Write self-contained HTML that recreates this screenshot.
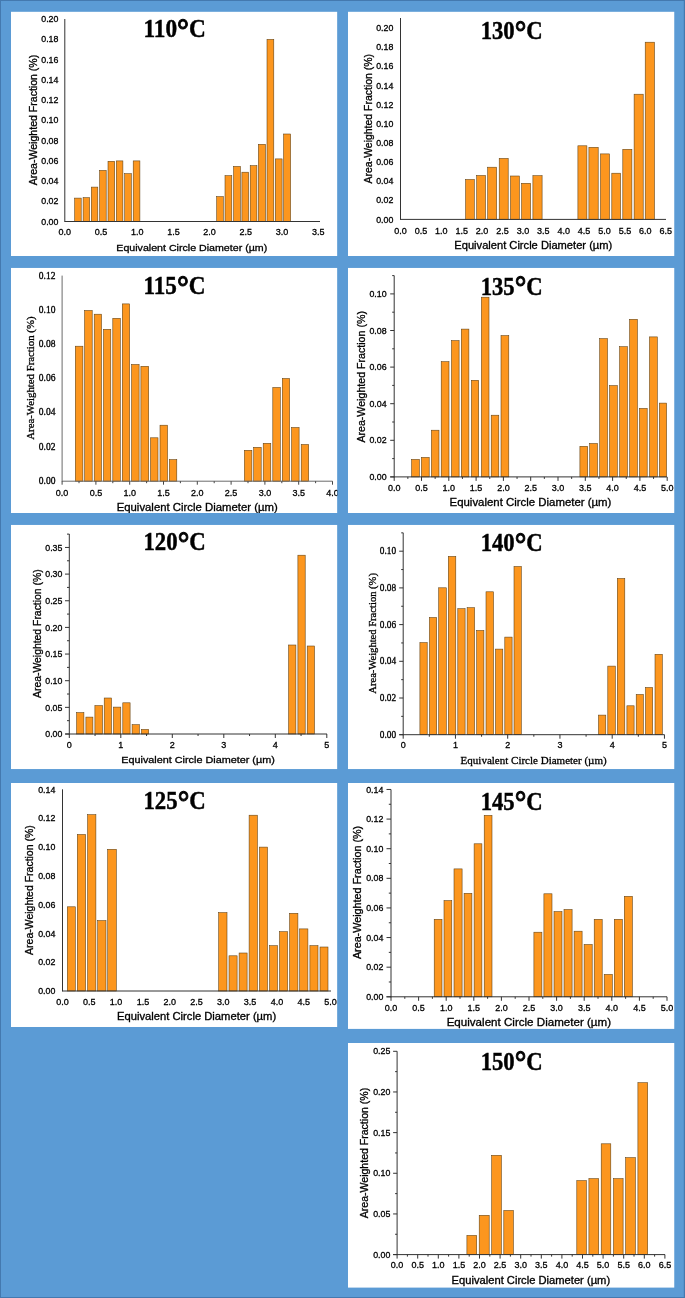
<!DOCTYPE html>
<html><head><meta charset="utf-8"><title>Histograms</title>
<style>html,body{margin:0;padding:0;background:#5B9BD5}svg text{white-space:pre}</style></head>
<body>
<svg width="685" height="1298" viewBox="0 0 685 1298" style="display:block">
<defs>
<clipPath id="c110"><rect x="11" y="11.6" width="326.40" height="244.40"/></clipPath>
<clipPath id="c130"><rect x="347.9" y="11.6" width="326.60" height="244.40"/></clipPath>
<clipPath id="c115"><rect x="11" y="267.8" width="326.40" height="245.20"/></clipPath>
<clipPath id="c135"><rect x="347.9" y="267.8" width="326.60" height="245.20"/></clipPath>
<clipPath id="c120"><rect x="11" y="524.8" width="326.40" height="244.40"/></clipPath>
<clipPath id="c140"><rect x="347.9" y="524.8" width="326.60" height="244.40"/></clipPath>
<clipPath id="c125"><rect x="11" y="782.9" width="326.40" height="244.10"/></clipPath>
<clipPath id="c145"><rect x="347.9" y="782.9" width="326.60" height="246.00"/></clipPath>
<clipPath id="c150"><rect x="347.9" y="1043" width="326.60" height="244.80"/></clipPath>
</defs>
<rect x="0.00" y="0.00" width="685.00" height="1298.00" fill="#5B9BD5" />
<rect x="0.00" y="0.00" width="685.00" height="1.00" fill="#4479AF" />
<rect x="0.00" y="0.00" width="1.00" height="1298.00" fill="#4479AF" />
<rect x="683.80" y="0.00" width="1.20" height="1298.00" fill="#4479AF" />
<rect x="0.00" y="1297.00" width="685.00" height="1.00" fill="#4479AF" />
<g clip-path="url(#c110)">
<rect x="11.00" y="11.60" width="326.40" height="244.40" fill="#fff" />
<rect x="74.70" y="198.10" width="6.50" height="23.40" fill="#FC961E" stroke="#5a3d12" stroke-width="0.55"/>
<rect x="83.10" y="197.70" width="6.50" height="23.80" fill="#FC961E" stroke="#5a3d12" stroke-width="0.55"/>
<rect x="91.30" y="187.10" width="6.50" height="34.40" fill="#FC961E" stroke="#5a3d12" stroke-width="0.55"/>
<rect x="99.60" y="170.40" width="6.60" height="51.10" fill="#FC961E" stroke="#5a3d12" stroke-width="0.55"/>
<rect x="108.00" y="161.30" width="6.70" height="60.20" fill="#FC961E" stroke="#5a3d12" stroke-width="0.55"/>
<rect x="116.30" y="160.90" width="6.60" height="60.60" fill="#FC961E" stroke="#5a3d12" stroke-width="0.55"/>
<rect x="124.70" y="173.70" width="6.60" height="47.80" fill="#FC961E" stroke="#5a3d12" stroke-width="0.55"/>
<rect x="133.20" y="160.90" width="6.70" height="60.60" fill="#FC961E" stroke="#5a3d12" stroke-width="0.55"/>
<rect x="216.70" y="196.60" width="6.60" height="24.90" fill="#FC961E" stroke="#5a3d12" stroke-width="0.55"/>
<rect x="225.00" y="175.70" width="6.80" height="45.80" fill="#FC961E" stroke="#5a3d12" stroke-width="0.55"/>
<rect x="233.60" y="166.40" width="6.80" height="55.10" fill="#FC961E" stroke="#5a3d12" stroke-width="0.55"/>
<rect x="241.90" y="172.20" width="6.70" height="49.30" fill="#FC961E" stroke="#5a3d12" stroke-width="0.55"/>
<rect x="250.20" y="165.70" width="6.70" height="55.80" fill="#FC961E" stroke="#5a3d12" stroke-width="0.55"/>
<rect x="258.40" y="144.30" width="7.10" height="77.20" fill="#FC961E" stroke="#5a3d12" stroke-width="0.55"/>
<rect x="267.00" y="39.40" width="6.80" height="182.10" fill="#FC961E" stroke="#5a3d12" stroke-width="0.55"/>
<rect x="275.30" y="158.90" width="6.80" height="62.60" fill="#FC961E" stroke="#5a3d12" stroke-width="0.55"/>
<rect x="283.60" y="134.00" width="7.00" height="87.50" fill="#FC961E" stroke="#5a3d12" stroke-width="0.55"/>
<line x1="64.80" y1="19.00" x2="64.80" y2="222.00" stroke="#333" stroke-width="1"/>
<line x1="64.80" y1="221.50" x2="320.00" y2="221.50" stroke="#333" stroke-width="1"/>
<text transform="translate(58.40,224.65) scale(1.0,1)" text-anchor="end" font-size="8.8" font-family="'Liberation Sans', sans-serif" stroke="#000" stroke-width="0.3" fill="#000">0.00</text>
<text transform="translate(58.40,204.39) scale(1.0,1)" text-anchor="end" font-size="8.8" font-family="'Liberation Sans', sans-serif" stroke="#000" stroke-width="0.3" fill="#000">0.02</text>
<text transform="translate(58.40,184.13) scale(1.0,1)" text-anchor="end" font-size="8.8" font-family="'Liberation Sans', sans-serif" stroke="#000" stroke-width="0.3" fill="#000">0.04</text>
<text transform="translate(58.40,163.87) scale(1.0,1)" text-anchor="end" font-size="8.8" font-family="'Liberation Sans', sans-serif" stroke="#000" stroke-width="0.3" fill="#000">0.06</text>
<text transform="translate(58.40,143.61) scale(1.0,1)" text-anchor="end" font-size="8.8" font-family="'Liberation Sans', sans-serif" stroke="#000" stroke-width="0.3" fill="#000">0.08</text>
<text transform="translate(58.40,123.35) scale(1.0,1)" text-anchor="end" font-size="8.8" font-family="'Liberation Sans', sans-serif" stroke="#000" stroke-width="0.3" fill="#000">0.10</text>
<text transform="translate(58.40,103.09) scale(1.0,1)" text-anchor="end" font-size="8.8" font-family="'Liberation Sans', sans-serif" stroke="#000" stroke-width="0.3" fill="#000">0.12</text>
<text transform="translate(58.40,82.83) scale(1.0,1)" text-anchor="end" font-size="8.8" font-family="'Liberation Sans', sans-serif" stroke="#000" stroke-width="0.3" fill="#000">0.14</text>
<text transform="translate(58.40,62.57) scale(1.0,1)" text-anchor="end" font-size="8.8" font-family="'Liberation Sans', sans-serif" stroke="#000" stroke-width="0.3" fill="#000">0.16</text>
<text transform="translate(58.40,42.31) scale(1.0,1)" text-anchor="end" font-size="8.8" font-family="'Liberation Sans', sans-serif" stroke="#000" stroke-width="0.3" fill="#000">0.18</text>
<text transform="translate(58.40,22.05) scale(1.0,1)" text-anchor="end" font-size="8.8" font-family="'Liberation Sans', sans-serif" stroke="#000" stroke-width="0.3" fill="#000">0.20</text>
<text transform="translate(64.80,235.42) scale(1.0,1)" text-anchor="middle" font-size="9.0" font-family="'Liberation Sans', sans-serif" stroke="#000" stroke-width="0.3" fill="#000">0.0</text>
<text transform="translate(101.00,235.42) scale(1.0,1)" text-anchor="middle" font-size="9.0" font-family="'Liberation Sans', sans-serif" stroke="#000" stroke-width="0.3" fill="#000">0.5</text>
<text transform="translate(137.20,235.42) scale(1.0,1)" text-anchor="middle" font-size="9.0" font-family="'Liberation Sans', sans-serif" stroke="#000" stroke-width="0.3" fill="#000">1.0</text>
<text transform="translate(173.40,235.42) scale(1.0,1)" text-anchor="middle" font-size="9.0" font-family="'Liberation Sans', sans-serif" stroke="#000" stroke-width="0.3" fill="#000">1.5</text>
<text transform="translate(209.60,235.42) scale(1.0,1)" text-anchor="middle" font-size="9.0" font-family="'Liberation Sans', sans-serif" stroke="#000" stroke-width="0.3" fill="#000">2.0</text>
<text transform="translate(245.80,235.42) scale(1.0,1)" text-anchor="middle" font-size="9.0" font-family="'Liberation Sans', sans-serif" stroke="#000" stroke-width="0.3" fill="#000">2.5</text>
<text transform="translate(282.00,235.42) scale(1.0,1)" text-anchor="middle" font-size="9.0" font-family="'Liberation Sans', sans-serif" stroke="#000" stroke-width="0.3" fill="#000">3.0</text>
<text transform="translate(318.20,235.42) scale(1.0,1)" text-anchor="middle" font-size="9.0" font-family="'Liberation Sans', sans-serif" stroke="#000" stroke-width="0.3" fill="#000">3.5</text>
<text transform="translate(143.44,37.30) scale(0.9308,1)" font-size="25" font-family="'Liberation Serif', serif" font-weight="bold" fill="#000" stroke="#000" stroke-width="0.45">110<tspan font-size="32.00" dy="3.76" stroke-width="0.9">°</tspan><tspan dy="-3.76" stroke-width="0.45">C</tspan></text>
<text transform="translate(116.33,250.60) scale(1.0860,1.0)" font-size="9.8" font-family="'Liberation Sans', sans-serif" stroke="#000" stroke-width="0.3" fill="#000">Equivalent Circle Diameter (µm)</text>
<text transform="translate(36.90,185.32) rotate(-90) scale(1.0000,1.04)" font-size="10.56" font-family="'Liberation Sans', sans-serif" stroke="#000" stroke-width="0.3" fill="#000">Area-Weighted Fraction (%)</text>
</g>
<g clip-path="url(#c130)">
<rect x="347.90" y="11.60" width="326.60" height="244.40" fill="#fff" />
<rect x="465.60" y="179.50" width="8.70" height="39.90" fill="#FC961E" stroke="#5a3d12" stroke-width="0.55"/>
<rect x="476.70" y="175.50" width="8.80" height="43.90" fill="#FC961E" stroke="#5a3d12" stroke-width="0.55"/>
<rect x="487.70" y="167.20" width="8.90" height="52.20" fill="#FC961E" stroke="#5a3d12" stroke-width="0.55"/>
<rect x="499.20" y="158.40" width="9.00" height="61.00" fill="#FC961E" stroke="#5a3d12" stroke-width="0.55"/>
<rect x="510.50" y="176.00" width="8.90" height="43.40" fill="#FC961E" stroke="#5a3d12" stroke-width="0.55"/>
<rect x="521.60" y="183.30" width="9.00" height="36.10" fill="#FC961E" stroke="#5a3d12" stroke-width="0.55"/>
<rect x="532.90" y="175.70" width="9.20" height="43.70" fill="#FC961E" stroke="#5a3d12" stroke-width="0.55"/>
<rect x="577.90" y="145.80" width="9.00" height="73.60" fill="#FC961E" stroke="#5a3d12" stroke-width="0.55"/>
<rect x="588.90" y="147.30" width="9.30" height="72.10" fill="#FC961E" stroke="#5a3d12" stroke-width="0.55"/>
<rect x="600.50" y="153.90" width="9.00" height="65.50" fill="#FC961E" stroke="#5a3d12" stroke-width="0.55"/>
<rect x="611.80" y="173.20" width="8.80" height="46.20" fill="#FC961E" stroke="#5a3d12" stroke-width="0.55"/>
<rect x="622.80" y="149.30" width="9.10" height="70.10" fill="#FC961E" stroke="#5a3d12" stroke-width="0.55"/>
<rect x="634.10" y="94.20" width="9.10" height="125.20" fill="#FC961E" stroke="#5a3d12" stroke-width="0.55"/>
<rect x="645.20" y="42.20" width="9.30" height="177.20" fill="#FC961E" stroke="#5a3d12" stroke-width="0.55"/>
<line x1="400.50" y1="18.00" x2="400.50" y2="219.90" stroke="#333" stroke-width="1"/>
<line x1="400.50" y1="219.40" x2="666.00" y2="219.40" stroke="#333" stroke-width="1"/>
<text transform="translate(393.30,222.55) scale(1.0,1)" text-anchor="end" font-size="8.8" font-family="'Liberation Sans', sans-serif" stroke="#000" stroke-width="0.3" fill="#000">0.00</text>
<text transform="translate(393.30,203.40) scale(1.0,1)" text-anchor="end" font-size="8.8" font-family="'Liberation Sans', sans-serif" stroke="#000" stroke-width="0.3" fill="#000">0.02</text>
<text transform="translate(393.30,184.25) scale(1.0,1)" text-anchor="end" font-size="8.8" font-family="'Liberation Sans', sans-serif" stroke="#000" stroke-width="0.3" fill="#000">0.04</text>
<text transform="translate(393.30,165.10) scale(1.0,1)" text-anchor="end" font-size="8.8" font-family="'Liberation Sans', sans-serif" stroke="#000" stroke-width="0.3" fill="#000">0.06</text>
<text transform="translate(393.30,145.95) scale(1.0,1)" text-anchor="end" font-size="8.8" font-family="'Liberation Sans', sans-serif" stroke="#000" stroke-width="0.3" fill="#000">0.08</text>
<text transform="translate(393.30,126.80) scale(1.0,1)" text-anchor="end" font-size="8.8" font-family="'Liberation Sans', sans-serif" stroke="#000" stroke-width="0.3" fill="#000">0.10</text>
<text transform="translate(393.30,107.65) scale(1.0,1)" text-anchor="end" font-size="8.8" font-family="'Liberation Sans', sans-serif" stroke="#000" stroke-width="0.3" fill="#000">0.12</text>
<text transform="translate(393.30,88.50) scale(1.0,1)" text-anchor="end" font-size="8.8" font-family="'Liberation Sans', sans-serif" stroke="#000" stroke-width="0.3" fill="#000">0.14</text>
<text transform="translate(393.30,69.35) scale(1.0,1)" text-anchor="end" font-size="8.8" font-family="'Liberation Sans', sans-serif" stroke="#000" stroke-width="0.3" fill="#000">0.16</text>
<text transform="translate(393.30,50.20) scale(1.0,1)" text-anchor="end" font-size="8.8" font-family="'Liberation Sans', sans-serif" stroke="#000" stroke-width="0.3" fill="#000">0.18</text>
<text transform="translate(393.30,31.05) scale(1.0,1)" text-anchor="end" font-size="8.8" font-family="'Liberation Sans', sans-serif" stroke="#000" stroke-width="0.3" fill="#000">0.20</text>
<text transform="translate(400.50,233.62) scale(1.0,1)" text-anchor="middle" font-size="9.0" font-family="'Liberation Sans', sans-serif" stroke="#000" stroke-width="0.3" fill="#000">0.0</text>
<text transform="translate(420.90,233.62) scale(1.0,1)" text-anchor="middle" font-size="9.0" font-family="'Liberation Sans', sans-serif" stroke="#000" stroke-width="0.3" fill="#000">0.5</text>
<text transform="translate(441.30,233.62) scale(1.0,1)" text-anchor="middle" font-size="9.0" font-family="'Liberation Sans', sans-serif" stroke="#000" stroke-width="0.3" fill="#000">1.0</text>
<text transform="translate(461.70,233.62) scale(1.0,1)" text-anchor="middle" font-size="9.0" font-family="'Liberation Sans', sans-serif" stroke="#000" stroke-width="0.3" fill="#000">1.5</text>
<text transform="translate(482.10,233.62) scale(1.0,1)" text-anchor="middle" font-size="9.0" font-family="'Liberation Sans', sans-serif" stroke="#000" stroke-width="0.3" fill="#000">2.0</text>
<text transform="translate(502.50,233.62) scale(1.0,1)" text-anchor="middle" font-size="9.0" font-family="'Liberation Sans', sans-serif" stroke="#000" stroke-width="0.3" fill="#000">2.5</text>
<text transform="translate(522.90,233.62) scale(1.0,1)" text-anchor="middle" font-size="9.0" font-family="'Liberation Sans', sans-serif" stroke="#000" stroke-width="0.3" fill="#000">3.0</text>
<text transform="translate(543.30,233.62) scale(1.0,1)" text-anchor="middle" font-size="9.0" font-family="'Liberation Sans', sans-serif" stroke="#000" stroke-width="0.3" fill="#000">3.5</text>
<text transform="translate(563.70,233.62) scale(1.0,1)" text-anchor="middle" font-size="9.0" font-family="'Liberation Sans', sans-serif" stroke="#000" stroke-width="0.3" fill="#000">4.0</text>
<text transform="translate(584.10,233.62) scale(1.0,1)" text-anchor="middle" font-size="9.0" font-family="'Liberation Sans', sans-serif" stroke="#000" stroke-width="0.3" fill="#000">4.5</text>
<text transform="translate(604.50,233.62) scale(1.0,1)" text-anchor="middle" font-size="9.0" font-family="'Liberation Sans', sans-serif" stroke="#000" stroke-width="0.3" fill="#000">5.0</text>
<text transform="translate(624.90,233.62) scale(1.0,1)" text-anchor="middle" font-size="9.0" font-family="'Liberation Sans', sans-serif" stroke="#000" stroke-width="0.3" fill="#000">5.5</text>
<text transform="translate(645.30,233.62) scale(1.0,1)" text-anchor="middle" font-size="9.0" font-family="'Liberation Sans', sans-serif" stroke="#000" stroke-width="0.3" fill="#000">6.0</text>
<text transform="translate(665.70,233.62) scale(1.0,1)" text-anchor="middle" font-size="9.0" font-family="'Liberation Sans', sans-serif" stroke="#000" stroke-width="0.3" fill="#000">6.5</text>
<text transform="translate(480.68,38.90) scale(0.9078,1)" font-size="25" font-family="'Liberation Serif', serif" font-weight="bold" fill="#000" stroke="#000" stroke-width="0.45">130<tspan font-size="32.00" dy="3.76" stroke-width="0.9">°</tspan><tspan dy="-3.76" stroke-width="0.45">C</tspan></text>
<text transform="translate(454.29,248.90) scale(1.0713,1.0)" font-size="10.4" font-family="'Liberation Sans', sans-serif" stroke="#000" stroke-width="0.3" fill="#000">Equivalent Circle Diameter (µm)</text>
<text transform="translate(371.60,183.42) rotate(-90) scale(1.0000,1.04)" font-size="10.47" font-family="'Liberation Sans', sans-serif" stroke="#000" stroke-width="0.3" fill="#000">Area-Weighted Fraction (%)</text>
</g>
<g clip-path="url(#c115)">
<rect x="11.00" y="267.80" width="326.40" height="245.20" fill="#fff" />
<rect x="75.30" y="346.20" width="7.60" height="135.00" fill="#FC961E" stroke="#5a3d12" stroke-width="0.55"/>
<rect x="84.60" y="310.50" width="7.60" height="170.70" fill="#FC961E" stroke="#5a3d12" stroke-width="0.55"/>
<rect x="94.20" y="314.20" width="7.30" height="167.00" fill="#FC961E" stroke="#5a3d12" stroke-width="0.55"/>
<rect x="103.50" y="329.30" width="7.30" height="151.90" fill="#FC961E" stroke="#5a3d12" stroke-width="0.55"/>
<rect x="112.80" y="318.30" width="7.50" height="162.90" fill="#FC961E" stroke="#5a3d12" stroke-width="0.55"/>
<rect x="122.30" y="303.90" width="7.30" height="177.30" fill="#FC961E" stroke="#5a3d12" stroke-width="0.55"/>
<rect x="131.60" y="364.50" width="7.50" height="116.70" fill="#FC961E" stroke="#5a3d12" stroke-width="0.55"/>
<rect x="140.90" y="366.30" width="7.80" height="114.90" fill="#FC961E" stroke="#5a3d12" stroke-width="0.55"/>
<rect x="150.50" y="437.80" width="7.50" height="43.40" fill="#FC961E" stroke="#5a3d12" stroke-width="0.55"/>
<rect x="160.00" y="425.20" width="7.50" height="56.00" fill="#FC961E" stroke="#5a3d12" stroke-width="0.55"/>
<rect x="169.30" y="459.60" width="7.50" height="21.60" fill="#FC961E" stroke="#5a3d12" stroke-width="0.55"/>
<rect x="244.40" y="450.30" width="7.50" height="30.90" fill="#FC961E" stroke="#5a3d12" stroke-width="0.55"/>
<rect x="253.70" y="447.30" width="7.50" height="33.90" fill="#FC961E" stroke="#5a3d12" stroke-width="0.55"/>
<rect x="263.20" y="443.30" width="7.60" height="37.90" fill="#FC961E" stroke="#5a3d12" stroke-width="0.55"/>
<rect x="272.80" y="387.50" width="7.50" height="93.70" fill="#FC961E" stroke="#5a3d12" stroke-width="0.55"/>
<rect x="282.30" y="378.50" width="7.30" height="102.70" fill="#FC961E" stroke="#5a3d12" stroke-width="0.55"/>
<rect x="291.60" y="427.50" width="7.50" height="53.70" fill="#FC961E" stroke="#5a3d12" stroke-width="0.55"/>
<rect x="301.20" y="444.50" width="7.50" height="36.70" fill="#FC961E" stroke="#5a3d12" stroke-width="0.55"/>
<line x1="62.10" y1="275.60" x2="62.10" y2="481.70" stroke="#6a6a6a" stroke-width="1"/>
<line x1="62.10" y1="481.20" x2="332.50" y2="481.20" stroke="#6a6a6a" stroke-width="1"/>
<text transform="translate(55.40,483.81) scale(1.0,1)" text-anchor="end" font-size="9.5" font-family="'Liberation Serif', serif" stroke="#000" stroke-width="0.3" fill="#000">0.00</text>
<text transform="translate(55.40,449.61) scale(1.0,1)" text-anchor="end" font-size="9.5" font-family="'Liberation Serif', serif" stroke="#000" stroke-width="0.3" fill="#000">0.02</text>
<text transform="translate(55.40,415.41) scale(1.0,1)" text-anchor="end" font-size="9.5" font-family="'Liberation Serif', serif" stroke="#000" stroke-width="0.3" fill="#000">0.04</text>
<text transform="translate(55.40,381.21) scale(1.0,1)" text-anchor="end" font-size="9.5" font-family="'Liberation Serif', serif" stroke="#000" stroke-width="0.3" fill="#000">0.06</text>
<text transform="translate(55.40,347.01) scale(1.0,1)" text-anchor="end" font-size="9.5" font-family="'Liberation Serif', serif" stroke="#000" stroke-width="0.3" fill="#000">0.08</text>
<text transform="translate(55.40,312.81) scale(1.0,1)" text-anchor="end" font-size="9.5" font-family="'Liberation Serif', serif" stroke="#000" stroke-width="0.3" fill="#000">0.10</text>
<text transform="translate(55.40,278.61) scale(1.0,1)" text-anchor="end" font-size="9.5" font-family="'Liberation Serif', serif" stroke="#000" stroke-width="0.3" fill="#000">0.12</text>
<text transform="translate(62.10,495.62) scale(1.0,1)" text-anchor="middle" font-size="9.0" font-family="'Liberation Sans', sans-serif" stroke="#000" stroke-width="0.3" fill="#000">0.0</text>
<text transform="translate(95.90,495.62) scale(1.0,1)" text-anchor="middle" font-size="9.0" font-family="'Liberation Sans', sans-serif" stroke="#000" stroke-width="0.3" fill="#000">0.5</text>
<text transform="translate(129.70,495.62) scale(1.0,1)" text-anchor="middle" font-size="9.0" font-family="'Liberation Sans', sans-serif" stroke="#000" stroke-width="0.3" fill="#000">1.0</text>
<text transform="translate(163.50,495.62) scale(1.0,1)" text-anchor="middle" font-size="9.0" font-family="'Liberation Sans', sans-serif" stroke="#000" stroke-width="0.3" fill="#000">1.5</text>
<text transform="translate(197.30,495.62) scale(1.0,1)" text-anchor="middle" font-size="9.0" font-family="'Liberation Sans', sans-serif" stroke="#000" stroke-width="0.3" fill="#000">2.0</text>
<text transform="translate(231.10,495.62) scale(1.0,1)" text-anchor="middle" font-size="9.0" font-family="'Liberation Sans', sans-serif" stroke="#000" stroke-width="0.3" fill="#000">2.5</text>
<text transform="translate(264.90,495.62) scale(1.0,1)" text-anchor="middle" font-size="9.0" font-family="'Liberation Sans', sans-serif" stroke="#000" stroke-width="0.3" fill="#000">3.0</text>
<text transform="translate(298.70,495.62) scale(1.0,1)" text-anchor="middle" font-size="9.0" font-family="'Liberation Sans', sans-serif" stroke="#000" stroke-width="0.3" fill="#000">3.5</text>
<text transform="translate(332.50,495.62) scale(1.0,1)" text-anchor="middle" font-size="9.0" font-family="'Liberation Sans', sans-serif" stroke="#000" stroke-width="0.3" fill="#000">4.0</text>
<line x1="62.10" y1="481.20" x2="62.10" y2="484.70" stroke="#444" stroke-width="1"/>
<line x1="79.00" y1="481.20" x2="79.00" y2="483.20" stroke="#444" stroke-width="1"/>
<line x1="95.90" y1="481.20" x2="95.90" y2="484.70" stroke="#444" stroke-width="1"/>
<line x1="112.80" y1="481.20" x2="112.80" y2="483.20" stroke="#444" stroke-width="1"/>
<line x1="129.70" y1="481.20" x2="129.70" y2="484.70" stroke="#444" stroke-width="1"/>
<line x1="146.60" y1="481.20" x2="146.60" y2="483.20" stroke="#444" stroke-width="1"/>
<line x1="163.50" y1="481.20" x2="163.50" y2="484.70" stroke="#444" stroke-width="1"/>
<line x1="180.40" y1="481.20" x2="180.40" y2="483.20" stroke="#444" stroke-width="1"/>
<line x1="197.30" y1="481.20" x2="197.30" y2="484.70" stroke="#444" stroke-width="1"/>
<line x1="214.20" y1="481.20" x2="214.20" y2="483.20" stroke="#444" stroke-width="1"/>
<line x1="231.10" y1="481.20" x2="231.10" y2="484.70" stroke="#444" stroke-width="1"/>
<line x1="248.00" y1="481.20" x2="248.00" y2="483.20" stroke="#444" stroke-width="1"/>
<line x1="264.90" y1="481.20" x2="264.90" y2="484.70" stroke="#444" stroke-width="1"/>
<line x1="281.80" y1="481.20" x2="281.80" y2="483.20" stroke="#444" stroke-width="1"/>
<line x1="298.70" y1="481.20" x2="298.70" y2="484.70" stroke="#444" stroke-width="1"/>
<line x1="315.60" y1="481.20" x2="315.60" y2="483.20" stroke="#444" stroke-width="1"/>
<line x1="332.50" y1="481.20" x2="332.50" y2="484.70" stroke="#444" stroke-width="1"/>
<text transform="translate(143.45,294.30) scale(0.9260,1)" font-size="25" font-family="'Liberation Serif', serif" font-weight="bold" fill="#000" stroke="#000" stroke-width="0.45">115<tspan font-size="32.00" dy="3.76" stroke-width="0.9">°</tspan><tspan dy="-3.76" stroke-width="0.45">C</tspan></text>
<text transform="translate(116.67,510.90) scale(1.0932,1.0)" font-size="10.4" font-family="'Liberation Sans', sans-serif" stroke="#000" stroke-width="0.3" fill="#000">Equivalent Circle Diameter (µm)</text>
<text transform="translate(34.40,439.71) rotate(-90) scale(1.0000,1.04)" font-size="10.809" font-family="'Liberation Serif', serif" stroke="#000" stroke-width="0.3" fill="#000">Area-Weighted Fraction (%)</text>
</g>
<g clip-path="url(#c135)">
<rect x="347.90" y="267.80" width="326.60" height="245.20" fill="#fff" />
<rect x="411.60" y="459.40" width="7.80" height="17.50" fill="#FC961E" stroke="#5a3d12" stroke-width="0.55"/>
<rect x="421.40" y="457.40" width="7.80" height="19.50" fill="#FC961E" stroke="#5a3d12" stroke-width="0.55"/>
<rect x="431.40" y="430.20" width="7.60" height="46.70" fill="#FC961E" stroke="#5a3d12" stroke-width="0.55"/>
<rect x="441.20" y="361.70" width="7.80" height="115.20" fill="#FC961E" stroke="#5a3d12" stroke-width="0.55"/>
<rect x="451.50" y="340.60" width="7.60" height="136.30" fill="#FC961E" stroke="#5a3d12" stroke-width="0.55"/>
<rect x="461.30" y="329.10" width="7.60" height="147.80" fill="#FC961E" stroke="#5a3d12" stroke-width="0.55"/>
<rect x="471.40" y="380.30" width="7.30" height="96.60" fill="#FC961E" stroke="#5a3d12" stroke-width="0.55"/>
<rect x="481.40" y="297.20" width="7.60" height="179.70" fill="#FC961E" stroke="#5a3d12" stroke-width="0.55"/>
<rect x="491.20" y="415.20" width="7.60" height="61.70" fill="#FC961E" stroke="#5a3d12" stroke-width="0.55"/>
<rect x="501.00" y="335.60" width="7.80" height="141.30" fill="#FC961E" stroke="#5a3d12" stroke-width="0.55"/>
<rect x="579.90" y="446.30" width="7.80" height="30.60" fill="#FC961E" stroke="#5a3d12" stroke-width="0.55"/>
<rect x="589.70" y="443.50" width="7.80" height="33.40" fill="#FC961E" stroke="#5a3d12" stroke-width="0.55"/>
<rect x="599.70" y="338.60" width="7.80" height="138.30" fill="#FC961E" stroke="#5a3d12" stroke-width="0.55"/>
<rect x="609.50" y="385.60" width="7.80" height="91.30" fill="#FC961E" stroke="#5a3d12" stroke-width="0.55"/>
<rect x="619.60" y="346.70" width="7.80" height="130.20" fill="#FC961E" stroke="#5a3d12" stroke-width="0.55"/>
<rect x="629.60" y="319.30" width="7.80" height="157.60" fill="#FC961E" stroke="#5a3d12" stroke-width="0.55"/>
<rect x="639.40" y="408.40" width="7.80" height="68.50" fill="#FC961E" stroke="#5a3d12" stroke-width="0.55"/>
<rect x="649.50" y="336.90" width="7.80" height="140.00" fill="#FC961E" stroke="#5a3d12" stroke-width="0.55"/>
<rect x="659.30" y="403.10" width="7.30" height="73.80" fill="#FC961E" stroke="#5a3d12" stroke-width="0.55"/>
<line x1="394.20" y1="275.60" x2="394.20" y2="477.40" stroke="#333" stroke-width="1"/>
<line x1="390.20" y1="476.90" x2="667.00" y2="476.90" stroke="#333" stroke-width="1"/>
<text transform="translate(386.60,480.05) scale(1.0,1)" text-anchor="end" font-size="8.8" font-family="'Liberation Sans', sans-serif" stroke="#000" stroke-width="0.3" fill="#000">0.00</text>
<text transform="translate(386.60,443.45) scale(1.0,1)" text-anchor="end" font-size="8.8" font-family="'Liberation Sans', sans-serif" stroke="#000" stroke-width="0.3" fill="#000">0.02</text>
<text transform="translate(386.60,406.85) scale(1.0,1)" text-anchor="end" font-size="8.8" font-family="'Liberation Sans', sans-serif" stroke="#000" stroke-width="0.3" fill="#000">0.04</text>
<text transform="translate(386.60,370.25) scale(1.0,1)" text-anchor="end" font-size="8.8" font-family="'Liberation Sans', sans-serif" stroke="#000" stroke-width="0.3" fill="#000">0.06</text>
<text transform="translate(386.60,333.65) scale(1.0,1)" text-anchor="end" font-size="8.8" font-family="'Liberation Sans', sans-serif" stroke="#000" stroke-width="0.3" fill="#000">0.08</text>
<text transform="translate(386.60,297.05) scale(1.0,1)" text-anchor="end" font-size="8.8" font-family="'Liberation Sans', sans-serif" stroke="#000" stroke-width="0.3" fill="#000">0.10</text>
<line x1="390.20" y1="476.90" x2="394.20" y2="476.90" stroke="#333" stroke-width="1"/>
<line x1="392.20" y1="458.60" x2="394.20" y2="458.60" stroke="#333" stroke-width="1"/>
<line x1="390.20" y1="440.30" x2="394.20" y2="440.30" stroke="#333" stroke-width="1"/>
<line x1="392.20" y1="422.00" x2="394.20" y2="422.00" stroke="#333" stroke-width="1"/>
<line x1="390.20" y1="403.70" x2="394.20" y2="403.70" stroke="#333" stroke-width="1"/>
<line x1="392.20" y1="385.40" x2="394.20" y2="385.40" stroke="#333" stroke-width="1"/>
<line x1="390.20" y1="367.10" x2="394.20" y2="367.10" stroke="#333" stroke-width="1"/>
<line x1="392.20" y1="348.80" x2="394.20" y2="348.80" stroke="#333" stroke-width="1"/>
<line x1="390.20" y1="330.50" x2="394.20" y2="330.50" stroke="#333" stroke-width="1"/>
<line x1="392.20" y1="312.20" x2="394.20" y2="312.20" stroke="#333" stroke-width="1"/>
<line x1="390.20" y1="293.90" x2="394.20" y2="293.90" stroke="#333" stroke-width="1"/>
<line x1="392.20" y1="275.60" x2="394.20" y2="275.60" stroke="#333" stroke-width="1"/>
<text transform="translate(394.20,490.52) scale(1.0,1)" text-anchor="middle" font-size="9.0" font-family="'Liberation Sans', sans-serif" stroke="#000" stroke-width="0.3" fill="#000">0.0</text>
<text transform="translate(421.50,490.52) scale(1.0,1)" text-anchor="middle" font-size="9.0" font-family="'Liberation Sans', sans-serif" stroke="#000" stroke-width="0.3" fill="#000">0.5</text>
<text transform="translate(448.80,490.52) scale(1.0,1)" text-anchor="middle" font-size="9.0" font-family="'Liberation Sans', sans-serif" stroke="#000" stroke-width="0.3" fill="#000">1.0</text>
<text transform="translate(476.10,490.52) scale(1.0,1)" text-anchor="middle" font-size="9.0" font-family="'Liberation Sans', sans-serif" stroke="#000" stroke-width="0.3" fill="#000">1.5</text>
<text transform="translate(503.40,490.52) scale(1.0,1)" text-anchor="middle" font-size="9.0" font-family="'Liberation Sans', sans-serif" stroke="#000" stroke-width="0.3" fill="#000">2.0</text>
<text transform="translate(530.70,490.52) scale(1.0,1)" text-anchor="middle" font-size="9.0" font-family="'Liberation Sans', sans-serif" stroke="#000" stroke-width="0.3" fill="#000">2.5</text>
<text transform="translate(558.00,490.52) scale(1.0,1)" text-anchor="middle" font-size="9.0" font-family="'Liberation Sans', sans-serif" stroke="#000" stroke-width="0.3" fill="#000">3.0</text>
<text transform="translate(585.30,490.52) scale(1.0,1)" text-anchor="middle" font-size="9.0" font-family="'Liberation Sans', sans-serif" stroke="#000" stroke-width="0.3" fill="#000">3.5</text>
<text transform="translate(612.60,490.52) scale(1.0,1)" text-anchor="middle" font-size="9.0" font-family="'Liberation Sans', sans-serif" stroke="#000" stroke-width="0.3" fill="#000">4.0</text>
<text transform="translate(639.90,490.52) scale(1.0,1)" text-anchor="middle" font-size="9.0" font-family="'Liberation Sans', sans-serif" stroke="#000" stroke-width="0.3" fill="#000">4.5</text>
<text transform="translate(667.20,490.52) scale(1.0,1)" text-anchor="middle" font-size="9.0" font-family="'Liberation Sans', sans-serif" stroke="#000" stroke-width="0.3" fill="#000">5.0</text>
<line x1="394.20" y1="476.90" x2="394.20" y2="480.90" stroke="#333" stroke-width="1"/>
<line x1="407.85" y1="476.90" x2="407.85" y2="478.90" stroke="#333" stroke-width="1"/>
<line x1="421.50" y1="476.90" x2="421.50" y2="480.90" stroke="#333" stroke-width="1"/>
<line x1="435.15" y1="476.90" x2="435.15" y2="478.90" stroke="#333" stroke-width="1"/>
<line x1="448.80" y1="476.90" x2="448.80" y2="480.90" stroke="#333" stroke-width="1"/>
<line x1="462.45" y1="476.90" x2="462.45" y2="478.90" stroke="#333" stroke-width="1"/>
<line x1="476.10" y1="476.90" x2="476.10" y2="480.90" stroke="#333" stroke-width="1"/>
<line x1="489.75" y1="476.90" x2="489.75" y2="478.90" stroke="#333" stroke-width="1"/>
<line x1="503.40" y1="476.90" x2="503.40" y2="480.90" stroke="#333" stroke-width="1"/>
<line x1="517.05" y1="476.90" x2="517.05" y2="478.90" stroke="#333" stroke-width="1"/>
<line x1="530.70" y1="476.90" x2="530.70" y2="480.90" stroke="#333" stroke-width="1"/>
<line x1="544.35" y1="476.90" x2="544.35" y2="478.90" stroke="#333" stroke-width="1"/>
<line x1="558.00" y1="476.90" x2="558.00" y2="480.90" stroke="#333" stroke-width="1"/>
<line x1="571.65" y1="476.90" x2="571.65" y2="478.90" stroke="#333" stroke-width="1"/>
<line x1="585.30" y1="476.90" x2="585.30" y2="480.90" stroke="#333" stroke-width="1"/>
<line x1="598.95" y1="476.90" x2="598.95" y2="478.90" stroke="#333" stroke-width="1"/>
<line x1="612.60" y1="476.90" x2="612.60" y2="480.90" stroke="#333" stroke-width="1"/>
<line x1="626.25" y1="476.90" x2="626.25" y2="478.90" stroke="#333" stroke-width="1"/>
<line x1="639.90" y1="476.90" x2="639.90" y2="480.90" stroke="#333" stroke-width="1"/>
<line x1="653.55" y1="476.90" x2="653.55" y2="478.90" stroke="#333" stroke-width="1"/>
<line x1="667.20" y1="476.90" x2="667.20" y2="480.90" stroke="#333" stroke-width="1"/>
<text transform="translate(480.68,294.60) scale(0.9078,1)" font-size="25" font-family="'Liberation Serif', serif" font-weight="bold" fill="#000" stroke="#000" stroke-width="0.45">135<tspan font-size="32.00" dy="3.76" stroke-width="0.9">°</tspan><tspan dy="-3.76" stroke-width="0.45">C</tspan></text>
<text transform="translate(449.56,505.90) scale(1.0986,1.0)" font-size="10.4" font-family="'Liberation Sans', sans-serif" stroke="#000" stroke-width="0.3" fill="#000">Equivalent Circle Diameter (µm)</text>
<text transform="translate(364.80,442.62) rotate(-90) scale(1.0000,1.04)" font-size="10.641" font-family="'Liberation Sans', sans-serif" stroke="#000" stroke-width="0.3" fill="#000">Area-Weighted Fraction (%)</text>
</g>
<g clip-path="url(#c120)">
<rect x="11.00" y="524.80" width="326.40" height="244.40" fill="#fff" />
<rect x="76.60" y="712.60" width="7.30" height="21.40" fill="#FC961E" stroke="#5a3d12" stroke-width="0.55"/>
<rect x="85.90" y="717.10" width="7.00" height="16.90" fill="#FC961E" stroke="#5a3d12" stroke-width="0.55"/>
<rect x="94.90" y="705.60" width="7.60" height="28.40" fill="#FC961E" stroke="#5a3d12" stroke-width="0.55"/>
<rect x="104.20" y="698.00" width="7.30" height="36.00" fill="#FC961E" stroke="#5a3d12" stroke-width="0.55"/>
<rect x="113.50" y="707.10" width="7.30" height="26.90" fill="#FC961E" stroke="#5a3d12" stroke-width="0.55"/>
<rect x="122.80" y="702.80" width="7.30" height="31.20" fill="#FC961E" stroke="#5a3d12" stroke-width="0.55"/>
<rect x="132.10" y="724.70" width="7.30" height="9.30" fill="#FC961E" stroke="#5a3d12" stroke-width="0.55"/>
<rect x="141.40" y="729.40" width="7.30" height="4.60" fill="#FC961E" stroke="#5a3d12" stroke-width="0.55"/>
<rect x="288.60" y="645.00" width="7.30" height="89.00" fill="#FC961E" stroke="#5a3d12" stroke-width="0.55"/>
<rect x="297.90" y="555.20" width="7.30" height="178.80" fill="#FC961E" stroke="#5a3d12" stroke-width="0.55"/>
<rect x="307.20" y="646.00" width="7.30" height="88.00" fill="#FC961E" stroke="#5a3d12" stroke-width="0.55"/>
<line x1="69.30" y1="534.00" x2="69.30" y2="734.50" stroke="#333" stroke-width="1"/>
<line x1="65.30" y1="734.00" x2="327.00" y2="734.00" stroke="#333" stroke-width="1"/>
<text transform="translate(62.40,737.15) scale(1.0,1)" text-anchor="end" font-size="8.8" font-family="'Liberation Sans', sans-serif" stroke="#000" stroke-width="0.3" fill="#000">0.00</text>
<text transform="translate(62.40,710.50) scale(1.0,1)" text-anchor="end" font-size="8.8" font-family="'Liberation Sans', sans-serif" stroke="#000" stroke-width="0.3" fill="#000">0.05</text>
<text transform="translate(62.40,683.85) scale(1.0,1)" text-anchor="end" font-size="8.8" font-family="'Liberation Sans', sans-serif" stroke="#000" stroke-width="0.3" fill="#000">0.10</text>
<text transform="translate(62.40,657.20) scale(1.0,1)" text-anchor="end" font-size="8.8" font-family="'Liberation Sans', sans-serif" stroke="#000" stroke-width="0.3" fill="#000">0.15</text>
<text transform="translate(62.40,630.55) scale(1.0,1)" text-anchor="end" font-size="8.8" font-family="'Liberation Sans', sans-serif" stroke="#000" stroke-width="0.3" fill="#000">0.20</text>
<text transform="translate(62.40,603.90) scale(1.0,1)" text-anchor="end" font-size="8.8" font-family="'Liberation Sans', sans-serif" stroke="#000" stroke-width="0.3" fill="#000">0.25</text>
<text transform="translate(62.40,577.25) scale(1.0,1)" text-anchor="end" font-size="8.8" font-family="'Liberation Sans', sans-serif" stroke="#000" stroke-width="0.3" fill="#000">0.30</text>
<text transform="translate(62.40,550.60) scale(1.0,1)" text-anchor="end" font-size="8.8" font-family="'Liberation Sans', sans-serif" stroke="#000" stroke-width="0.3" fill="#000">0.35</text>
<line x1="65.00" y1="734.00" x2="69.30" y2="734.00" stroke="#333" stroke-width="1"/>
<line x1="67.00" y1="720.67" x2="69.30" y2="720.67" stroke="#333" stroke-width="1"/>
<line x1="65.00" y1="707.35" x2="69.30" y2="707.35" stroke="#333" stroke-width="1"/>
<line x1="67.00" y1="694.02" x2="69.30" y2="694.02" stroke="#333" stroke-width="1"/>
<line x1="65.00" y1="680.70" x2="69.30" y2="680.70" stroke="#333" stroke-width="1"/>
<line x1="67.00" y1="667.38" x2="69.30" y2="667.38" stroke="#333" stroke-width="1"/>
<line x1="65.00" y1="654.05" x2="69.30" y2="654.05" stroke="#333" stroke-width="1"/>
<line x1="67.00" y1="640.73" x2="69.30" y2="640.73" stroke="#333" stroke-width="1"/>
<line x1="65.00" y1="627.40" x2="69.30" y2="627.40" stroke="#333" stroke-width="1"/>
<line x1="67.00" y1="614.08" x2="69.30" y2="614.08" stroke="#333" stroke-width="1"/>
<line x1="65.00" y1="600.75" x2="69.30" y2="600.75" stroke="#333" stroke-width="1"/>
<line x1="67.00" y1="587.42" x2="69.30" y2="587.42" stroke="#333" stroke-width="1"/>
<line x1="65.00" y1="574.10" x2="69.30" y2="574.10" stroke="#333" stroke-width="1"/>
<line x1="67.00" y1="560.77" x2="69.30" y2="560.77" stroke="#333" stroke-width="1"/>
<line x1="65.00" y1="547.45" x2="69.30" y2="547.45" stroke="#333" stroke-width="1"/>
<line x1="67.00" y1="534.12" x2="69.30" y2="534.12" stroke="#333" stroke-width="1"/>
<text transform="translate(69.30,747.72) scale(1.0,1)" text-anchor="middle" font-size="9.0" font-family="'Liberation Sans', sans-serif" stroke="#000" stroke-width="0.3" fill="#000">0</text>
<text transform="translate(120.80,747.72) scale(1.0,1)" text-anchor="middle" font-size="9.0" font-family="'Liberation Sans', sans-serif" stroke="#000" stroke-width="0.3" fill="#000">1</text>
<text transform="translate(172.30,747.72) scale(1.0,1)" text-anchor="middle" font-size="9.0" font-family="'Liberation Sans', sans-serif" stroke="#000" stroke-width="0.3" fill="#000">2</text>
<text transform="translate(223.80,747.72) scale(1.0,1)" text-anchor="middle" font-size="9.0" font-family="'Liberation Sans', sans-serif" stroke="#000" stroke-width="0.3" fill="#000">3</text>
<text transform="translate(275.30,747.72) scale(1.0,1)" text-anchor="middle" font-size="9.0" font-family="'Liberation Sans', sans-serif" stroke="#000" stroke-width="0.3" fill="#000">4</text>
<text transform="translate(326.80,747.72) scale(1.0,1)" text-anchor="middle" font-size="9.0" font-family="'Liberation Sans', sans-serif" stroke="#000" stroke-width="0.3" fill="#000">5</text>
<line x1="69.30" y1="734.00" x2="69.30" y2="738.00" stroke="#333" stroke-width="1"/>
<line x1="95.05" y1="734.00" x2="95.05" y2="736.00" stroke="#333" stroke-width="1"/>
<line x1="120.80" y1="734.00" x2="120.80" y2="738.00" stroke="#333" stroke-width="1"/>
<line x1="146.55" y1="734.00" x2="146.55" y2="736.00" stroke="#333" stroke-width="1"/>
<line x1="172.30" y1="734.00" x2="172.30" y2="738.00" stroke="#333" stroke-width="1"/>
<line x1="198.05" y1="734.00" x2="198.05" y2="736.00" stroke="#333" stroke-width="1"/>
<line x1="223.80" y1="734.00" x2="223.80" y2="738.00" stroke="#333" stroke-width="1"/>
<line x1="249.55" y1="734.00" x2="249.55" y2="736.00" stroke="#333" stroke-width="1"/>
<line x1="275.30" y1="734.00" x2="275.30" y2="738.00" stroke="#333" stroke-width="1"/>
<line x1="301.05" y1="734.00" x2="301.05" y2="736.00" stroke="#333" stroke-width="1"/>
<line x1="326.80" y1="734.00" x2="326.80" y2="738.00" stroke="#333" stroke-width="1"/>
<text transform="translate(143.48,550.40) scale(0.9109,1)" font-size="25" font-family="'Liberation Serif', serif" font-weight="bold" fill="#000" stroke="#000" stroke-width="0.45">120<tspan font-size="32.00" dy="3.76" stroke-width="0.9">°</tspan><tspan dy="-3.76" stroke-width="0.45">C</tspan></text>
<text transform="translate(121.31,762.90) scale(1.1163,1.0)" font-size="9.7" font-family="'Liberation Sans', sans-serif" stroke="#000" stroke-width="0.3" fill="#000">Equivalent Circle Diameter (µm)</text>
<text transform="translate(40.60,698.02) rotate(-90) scale(1.0000,1.04)" font-size="10.413" font-family="'Liberation Sans', sans-serif" stroke="#000" stroke-width="0.3" fill="#000">Area-Weighted Fraction (%)</text>
</g>
<g clip-path="url(#c140)">
<rect x="347.90" y="524.80" width="326.60" height="244.40" fill="#fff" />
<rect x="419.90" y="642.60" width="7.30" height="92.10" fill="#FC961E" stroke="#5a3d12" stroke-width="0.55"/>
<rect x="429.40" y="617.50" width="7.30" height="117.20" fill="#FC961E" stroke="#5a3d12" stroke-width="0.55"/>
<rect x="438.70" y="587.80" width="7.60" height="146.90" fill="#FC961E" stroke="#5a3d12" stroke-width="0.55"/>
<rect x="448.30" y="556.40" width="7.50" height="178.30" fill="#FC961E" stroke="#5a3d12" stroke-width="0.55"/>
<rect x="457.80" y="608.70" width="7.30" height="126.00" fill="#FC961E" stroke="#5a3d12" stroke-width="0.55"/>
<rect x="467.10" y="607.70" width="7.50" height="127.00" fill="#FC961E" stroke="#5a3d12" stroke-width="0.55"/>
<rect x="476.70" y="630.50" width="7.20" height="104.20" fill="#FC961E" stroke="#5a3d12" stroke-width="0.55"/>
<rect x="486.00" y="591.80" width="7.50" height="142.90" fill="#FC961E" stroke="#5a3d12" stroke-width="0.55"/>
<rect x="495.50" y="649.10" width="7.30" height="85.60" fill="#FC961E" stroke="#5a3d12" stroke-width="0.55"/>
<rect x="504.80" y="637.10" width="7.30" height="97.60" fill="#FC961E" stroke="#5a3d12" stroke-width="0.55"/>
<rect x="514.00" y="566.50" width="7.30" height="168.20" fill="#FC961E" stroke="#5a3d12" stroke-width="0.55"/>
<rect x="598.50" y="715.10" width="7.30" height="19.60" fill="#FC961E" stroke="#5a3d12" stroke-width="0.55"/>
<rect x="607.80" y="666.10" width="7.50" height="68.60" fill="#FC961E" stroke="#5a3d12" stroke-width="0.55"/>
<rect x="617.30" y="578.50" width="7.50" height="156.20" fill="#FC961E" stroke="#5a3d12" stroke-width="0.55"/>
<rect x="626.90" y="705.80" width="7.20" height="28.90" fill="#FC961E" stroke="#5a3d12" stroke-width="0.55"/>
<rect x="636.20" y="694.50" width="7.20" height="40.20" fill="#FC961E" stroke="#5a3d12" stroke-width="0.55"/>
<rect x="645.50" y="687.50" width="7.20" height="47.20" fill="#FC961E" stroke="#5a3d12" stroke-width="0.55"/>
<rect x="655.00" y="654.30" width="7.30" height="80.40" fill="#FC961E" stroke="#5a3d12" stroke-width="0.55"/>
<line x1="403.20" y1="532.80" x2="403.20" y2="735.20" stroke="#333" stroke-width="1"/>
<line x1="399.20" y1="734.70" x2="664.50" y2="734.70" stroke="#333" stroke-width="1"/>
<text transform="translate(396.10,737.84) scale(1.0,1)" text-anchor="end" font-size="9.3" font-family="'Liberation Serif', serif" stroke="#000" stroke-width="0.3" fill="#000">0.00</text>
<text transform="translate(396.10,701.14) scale(1.0,1)" text-anchor="end" font-size="9.3" font-family="'Liberation Serif', serif" stroke="#000" stroke-width="0.3" fill="#000">0.02</text>
<text transform="translate(396.10,664.44) scale(1.0,1)" text-anchor="end" font-size="9.3" font-family="'Liberation Serif', serif" stroke="#000" stroke-width="0.3" fill="#000">0.04</text>
<text transform="translate(396.10,627.74) scale(1.0,1)" text-anchor="end" font-size="9.3" font-family="'Liberation Serif', serif" stroke="#000" stroke-width="0.3" fill="#000">0.06</text>
<text transform="translate(396.10,591.04) scale(1.0,1)" text-anchor="end" font-size="9.3" font-family="'Liberation Serif', serif" stroke="#000" stroke-width="0.3" fill="#000">0.08</text>
<text transform="translate(396.10,554.34) scale(1.0,1)" text-anchor="end" font-size="9.3" font-family="'Liberation Serif', serif" stroke="#000" stroke-width="0.3" fill="#000">0.10</text>
<line x1="399.20" y1="734.70" x2="403.20" y2="734.70" stroke="#333" stroke-width="1"/>
<line x1="401.20" y1="716.35" x2="403.20" y2="716.35" stroke="#333" stroke-width="1"/>
<line x1="399.20" y1="698.00" x2="403.20" y2="698.00" stroke="#333" stroke-width="1"/>
<line x1="401.20" y1="679.65" x2="403.20" y2="679.65" stroke="#333" stroke-width="1"/>
<line x1="399.20" y1="661.30" x2="403.20" y2="661.30" stroke="#333" stroke-width="1"/>
<line x1="401.20" y1="642.95" x2="403.20" y2="642.95" stroke="#333" stroke-width="1"/>
<line x1="399.20" y1="624.60" x2="403.20" y2="624.60" stroke="#333" stroke-width="1"/>
<line x1="401.20" y1="606.25" x2="403.20" y2="606.25" stroke="#333" stroke-width="1"/>
<line x1="399.20" y1="587.90" x2="403.20" y2="587.90" stroke="#333" stroke-width="1"/>
<line x1="401.20" y1="569.55" x2="403.20" y2="569.55" stroke="#333" stroke-width="1"/>
<line x1="399.20" y1="551.20" x2="403.20" y2="551.20" stroke="#333" stroke-width="1"/>
<line x1="401.20" y1="532.85" x2="403.20" y2="532.85" stroke="#333" stroke-width="1"/>
<text transform="translate(403.20,748.02) scale(1.0,1)" text-anchor="middle" font-size="9.0" font-family="'Liberation Sans', sans-serif" stroke="#000" stroke-width="0.3" fill="#000">0</text>
<text transform="translate(455.45,748.02) scale(1.0,1)" text-anchor="middle" font-size="9.0" font-family="'Liberation Sans', sans-serif" stroke="#000" stroke-width="0.3" fill="#000">1</text>
<text transform="translate(507.70,748.02) scale(1.0,1)" text-anchor="middle" font-size="9.0" font-family="'Liberation Sans', sans-serif" stroke="#000" stroke-width="0.3" fill="#000">2</text>
<text transform="translate(559.95,748.02) scale(1.0,1)" text-anchor="middle" font-size="9.0" font-family="'Liberation Sans', sans-serif" stroke="#000" stroke-width="0.3" fill="#000">3</text>
<text transform="translate(612.20,748.02) scale(1.0,1)" text-anchor="middle" font-size="9.0" font-family="'Liberation Sans', sans-serif" stroke="#000" stroke-width="0.3" fill="#000">4</text>
<text transform="translate(664.45,748.02) scale(1.0,1)" text-anchor="middle" font-size="9.0" font-family="'Liberation Sans', sans-serif" stroke="#000" stroke-width="0.3" fill="#000">5</text>
<line x1="403.20" y1="734.70" x2="403.20" y2="738.70" stroke="#333" stroke-width="1"/>
<line x1="429.32" y1="734.70" x2="429.32" y2="736.70" stroke="#333" stroke-width="1"/>
<line x1="455.45" y1="734.70" x2="455.45" y2="738.70" stroke="#333" stroke-width="1"/>
<line x1="481.57" y1="734.70" x2="481.57" y2="736.70" stroke="#333" stroke-width="1"/>
<line x1="507.70" y1="734.70" x2="507.70" y2="738.70" stroke="#333" stroke-width="1"/>
<line x1="533.83" y1="734.70" x2="533.83" y2="736.70" stroke="#333" stroke-width="1"/>
<line x1="559.95" y1="734.70" x2="559.95" y2="738.70" stroke="#333" stroke-width="1"/>
<line x1="586.08" y1="734.70" x2="586.08" y2="736.70" stroke="#333" stroke-width="1"/>
<line x1="612.20" y1="734.70" x2="612.20" y2="738.70" stroke="#333" stroke-width="1"/>
<line x1="638.33" y1="734.70" x2="638.33" y2="736.70" stroke="#333" stroke-width="1"/>
<line x1="664.45" y1="734.70" x2="664.45" y2="738.70" stroke="#333" stroke-width="1"/>
<text transform="translate(480.68,550.90) scale(0.9078,1)" font-size="25" font-family="'Liberation Serif', serif" font-weight="bold" fill="#000" stroke="#000" stroke-width="0.45">140<tspan font-size="32.00" dy="3.76" stroke-width="0.9">°</tspan><tspan dy="-3.76" stroke-width="0.45">C</tspan></text>
<text transform="translate(460.58,763.70) scale(1.0111,1.0)" font-size="10.9" font-family="'Liberation Serif', serif" stroke="#000" stroke-width="0.3" fill="#000">Equivalent Circle Diameter (µm)</text>
<text transform="translate(375.60,693.70) rotate(-90) scale(1.0000,1.04)" font-size="10.58" font-family="'Liberation Serif', serif" stroke="#000" stroke-width="0.3" fill="#000">Area-Weighted Fraction (%)</text>
</g>
<g clip-path="url(#c125)">
<rect x="11.00" y="782.90" width="326.40" height="244.10" fill="#fff" />
<rect x="67.30" y="906.80" width="8.00" height="84.20" fill="#FC961E" stroke="#5a3d12" stroke-width="0.55"/>
<rect x="77.30" y="834.50" width="8.30" height="156.50" fill="#FC961E" stroke="#5a3d12" stroke-width="0.55"/>
<rect x="87.60" y="814.70" width="8.30" height="176.30" fill="#FC961E" stroke="#5a3d12" stroke-width="0.55"/>
<rect x="97.70" y="920.60" width="8.30" height="70.40" fill="#FC961E" stroke="#5a3d12" stroke-width="0.55"/>
<rect x="107.70" y="849.30" width="8.60" height="141.70" fill="#FC961E" stroke="#5a3d12" stroke-width="0.55"/>
<rect x="218.70" y="912.60" width="8.30" height="78.40" fill="#FC961E" stroke="#5a3d12" stroke-width="0.55"/>
<rect x="229.00" y="955.80" width="8.10" height="35.20" fill="#FC961E" stroke="#5a3d12" stroke-width="0.55"/>
<rect x="239.10" y="953.00" width="8.00" height="38.00" fill="#FC961E" stroke="#5a3d12" stroke-width="0.55"/>
<rect x="249.10" y="815.20" width="8.30" height="175.80" fill="#FC961E" stroke="#5a3d12" stroke-width="0.55"/>
<rect x="259.40" y="847.10" width="8.10" height="143.90" fill="#FC961E" stroke="#5a3d12" stroke-width="0.55"/>
<rect x="269.50" y="945.70" width="8.00" height="45.30" fill="#FC961E" stroke="#5a3d12" stroke-width="0.55"/>
<rect x="279.50" y="931.70" width="8.10" height="59.30" fill="#FC961E" stroke="#5a3d12" stroke-width="0.55"/>
<rect x="289.60" y="913.30" width="8.30" height="77.70" fill="#FC961E" stroke="#5a3d12" stroke-width="0.55"/>
<rect x="299.60" y="928.90" width="8.30" height="62.10" fill="#FC961E" stroke="#5a3d12" stroke-width="0.55"/>
<rect x="309.90" y="945.70" width="8.10" height="45.30" fill="#FC961E" stroke="#5a3d12" stroke-width="0.55"/>
<rect x="320.00" y="947.00" width="8.00" height="44.00" fill="#FC961E" stroke="#5a3d12" stroke-width="0.55"/>
<line x1="62.50" y1="789.30" x2="62.50" y2="991.50" stroke="#333" stroke-width="1"/>
<line x1="62.50" y1="991.00" x2="331.00" y2="991.00" stroke="#333" stroke-width="1"/>
<text transform="translate(55.30,994.15) scale(1.0,1)" text-anchor="end" font-size="8.8" font-family="'Liberation Sans', sans-serif" stroke="#000" stroke-width="0.3" fill="#000">0.00</text>
<text transform="translate(55.30,965.35) scale(1.0,1)" text-anchor="end" font-size="8.8" font-family="'Liberation Sans', sans-serif" stroke="#000" stroke-width="0.3" fill="#000">0.02</text>
<text transform="translate(55.30,936.55) scale(1.0,1)" text-anchor="end" font-size="8.8" font-family="'Liberation Sans', sans-serif" stroke="#000" stroke-width="0.3" fill="#000">0.04</text>
<text transform="translate(55.30,907.75) scale(1.0,1)" text-anchor="end" font-size="8.8" font-family="'Liberation Sans', sans-serif" stroke="#000" stroke-width="0.3" fill="#000">0.06</text>
<text transform="translate(55.30,878.95) scale(1.0,1)" text-anchor="end" font-size="8.8" font-family="'Liberation Sans', sans-serif" stroke="#000" stroke-width="0.3" fill="#000">0.08</text>
<text transform="translate(55.30,850.15) scale(1.0,1)" text-anchor="end" font-size="8.8" font-family="'Liberation Sans', sans-serif" stroke="#000" stroke-width="0.3" fill="#000">0.10</text>
<text transform="translate(55.30,821.35) scale(1.0,1)" text-anchor="end" font-size="8.8" font-family="'Liberation Sans', sans-serif" stroke="#000" stroke-width="0.3" fill="#000">0.12</text>
<text transform="translate(55.30,792.55) scale(1.0,1)" text-anchor="end" font-size="8.8" font-family="'Liberation Sans', sans-serif" stroke="#000" stroke-width="0.3" fill="#000">0.14</text>
<text transform="translate(62.50,1005.12) scale(1.0,1)" text-anchor="middle" font-size="9.0" font-family="'Liberation Sans', sans-serif" stroke="#000" stroke-width="0.3" fill="#000">0.0</text>
<text transform="translate(89.30,1005.12) scale(1.0,1)" text-anchor="middle" font-size="9.0" font-family="'Liberation Sans', sans-serif" stroke="#000" stroke-width="0.3" fill="#000">0.5</text>
<text transform="translate(116.10,1005.12) scale(1.0,1)" text-anchor="middle" font-size="9.0" font-family="'Liberation Sans', sans-serif" stroke="#000" stroke-width="0.3" fill="#000">1.0</text>
<text transform="translate(142.90,1005.12) scale(1.0,1)" text-anchor="middle" font-size="9.0" font-family="'Liberation Sans', sans-serif" stroke="#000" stroke-width="0.3" fill="#000">1.5</text>
<text transform="translate(169.70,1005.12) scale(1.0,1)" text-anchor="middle" font-size="9.0" font-family="'Liberation Sans', sans-serif" stroke="#000" stroke-width="0.3" fill="#000">2.0</text>
<text transform="translate(196.50,1005.12) scale(1.0,1)" text-anchor="middle" font-size="9.0" font-family="'Liberation Sans', sans-serif" stroke="#000" stroke-width="0.3" fill="#000">2.5</text>
<text transform="translate(223.30,1005.12) scale(1.0,1)" text-anchor="middle" font-size="9.0" font-family="'Liberation Sans', sans-serif" stroke="#000" stroke-width="0.3" fill="#000">3.0</text>
<text transform="translate(250.10,1005.12) scale(1.0,1)" text-anchor="middle" font-size="9.0" font-family="'Liberation Sans', sans-serif" stroke="#000" stroke-width="0.3" fill="#000">3.5</text>
<text transform="translate(276.90,1005.12) scale(1.0,1)" text-anchor="middle" font-size="9.0" font-family="'Liberation Sans', sans-serif" stroke="#000" stroke-width="0.3" fill="#000">4.0</text>
<text transform="translate(303.70,1005.12) scale(1.0,1)" text-anchor="middle" font-size="9.0" font-family="'Liberation Sans', sans-serif" stroke="#000" stroke-width="0.3" fill="#000">4.5</text>
<text transform="translate(330.50,1005.12) scale(1.0,1)" text-anchor="middle" font-size="9.0" font-family="'Liberation Sans', sans-serif" stroke="#000" stroke-width="0.3" fill="#000">5.0</text>
<text transform="translate(143.48,809.40) scale(0.9109,1)" font-size="25" font-family="'Liberation Serif', serif" font-weight="bold" fill="#000" stroke="#000" stroke-width="0.45">125<tspan font-size="32.00" dy="3.76" stroke-width="0.9">°</tspan><tspan dy="-3.76" stroke-width="0.45">C</tspan></text>
<text transform="translate(116.98,1020.40) scale(1.1000,1.0)" font-size="10.2" font-family="'Liberation Sans', sans-serif" stroke="#000" stroke-width="0.3" fill="#000">Equivalent Circle Diameter (µm)</text>
<text transform="translate(32.70,954.92) rotate(-90) scale(1.0000,1.04)" font-size="10.486" font-family="'Liberation Sans', sans-serif" stroke="#000" stroke-width="0.3" fill="#000">Area-Weighted Fraction (%)</text>
</g>
<g clip-path="url(#c145)">
<rect x="347.90" y="782.90" width="326.60" height="246.00" fill="#fff" />
<rect x="434.20" y="919.30" width="7.80" height="77.50" fill="#FC961E" stroke="#5a3d12" stroke-width="0.55"/>
<rect x="444.00" y="900.60" width="7.80" height="96.20" fill="#FC961E" stroke="#5a3d12" stroke-width="0.55"/>
<rect x="454.00" y="868.90" width="8.10" height="127.90" fill="#FC961E" stroke="#5a3d12" stroke-width="0.55"/>
<rect x="464.10" y="893.30" width="7.80" height="103.50" fill="#FC961E" stroke="#5a3d12" stroke-width="0.55"/>
<rect x="474.10" y="843.80" width="7.80" height="153.00" fill="#FC961E" stroke="#5a3d12" stroke-width="0.55"/>
<rect x="484.20" y="815.40" width="7.80" height="181.40" fill="#FC961E" stroke="#5a3d12" stroke-width="0.55"/>
<rect x="533.90" y="932.20" width="8.00" height="64.60" fill="#FC961E" stroke="#5a3d12" stroke-width="0.55"/>
<rect x="543.90" y="893.80" width="8.10" height="103.00" fill="#FC961E" stroke="#5a3d12" stroke-width="0.55"/>
<rect x="554.00" y="911.60" width="8.00" height="85.20" fill="#FC961E" stroke="#5a3d12" stroke-width="0.55"/>
<rect x="564.00" y="909.50" width="8.10" height="87.30" fill="#FC961E" stroke="#5a3d12" stroke-width="0.55"/>
<rect x="574.10" y="931.20" width="8.00" height="65.60" fill="#FC961E" stroke="#5a3d12" stroke-width="0.55"/>
<rect x="584.10" y="944.50" width="8.10" height="52.30" fill="#FC961E" stroke="#5a3d12" stroke-width="0.55"/>
<rect x="594.20" y="919.30" width="8.00" height="77.50" fill="#FC961E" stroke="#5a3d12" stroke-width="0.55"/>
<rect x="604.20" y="974.40" width="8.10" height="22.40" fill="#FC961E" stroke="#5a3d12" stroke-width="0.55"/>
<rect x="614.30" y="919.30" width="8.00" height="77.50" fill="#FC961E" stroke="#5a3d12" stroke-width="0.55"/>
<rect x="624.30" y="896.30" width="8.10" height="100.50" fill="#FC961E" stroke="#5a3d12" stroke-width="0.55"/>
<line x1="391.00" y1="789.50" x2="391.00" y2="997.30" stroke="#333" stroke-width="1"/>
<line x1="386.50" y1="996.80" x2="667.00" y2="996.80" stroke="#333" stroke-width="1"/>
<text transform="translate(383.30,999.95) scale(1.0,1)" text-anchor="end" font-size="8.8" font-family="'Liberation Sans', sans-serif" stroke="#000" stroke-width="0.3" fill="#000">0.00</text>
<text transform="translate(383.30,970.33) scale(1.0,1)" text-anchor="end" font-size="8.8" font-family="'Liberation Sans', sans-serif" stroke="#000" stroke-width="0.3" fill="#000">0.02</text>
<text transform="translate(383.30,940.71) scale(1.0,1)" text-anchor="end" font-size="8.8" font-family="'Liberation Sans', sans-serif" stroke="#000" stroke-width="0.3" fill="#000">0.04</text>
<text transform="translate(383.30,911.09) scale(1.0,1)" text-anchor="end" font-size="8.8" font-family="'Liberation Sans', sans-serif" stroke="#000" stroke-width="0.3" fill="#000">0.06</text>
<text transform="translate(383.30,881.47) scale(1.0,1)" text-anchor="end" font-size="8.8" font-family="'Liberation Sans', sans-serif" stroke="#000" stroke-width="0.3" fill="#000">0.08</text>
<text transform="translate(383.30,851.85) scale(1.0,1)" text-anchor="end" font-size="8.8" font-family="'Liberation Sans', sans-serif" stroke="#000" stroke-width="0.3" fill="#000">0.10</text>
<text transform="translate(383.30,822.23) scale(1.0,1)" text-anchor="end" font-size="8.8" font-family="'Liberation Sans', sans-serif" stroke="#000" stroke-width="0.3" fill="#000">0.12</text>
<text transform="translate(383.30,792.61) scale(1.0,1)" text-anchor="end" font-size="8.8" font-family="'Liberation Sans', sans-serif" stroke="#000" stroke-width="0.3" fill="#000">0.14</text>
<line x1="386.50" y1="996.80" x2="391.00" y2="996.80" stroke="#333" stroke-width="1"/>
<line x1="388.80" y1="981.99" x2="391.00" y2="981.99" stroke="#333" stroke-width="1"/>
<line x1="386.50" y1="967.18" x2="391.00" y2="967.18" stroke="#333" stroke-width="1"/>
<line x1="388.80" y1="952.37" x2="391.00" y2="952.37" stroke="#333" stroke-width="1"/>
<line x1="386.50" y1="937.56" x2="391.00" y2="937.56" stroke="#333" stroke-width="1"/>
<line x1="388.80" y1="922.75" x2="391.00" y2="922.75" stroke="#333" stroke-width="1"/>
<line x1="386.50" y1="907.94" x2="391.00" y2="907.94" stroke="#333" stroke-width="1"/>
<line x1="388.80" y1="893.13" x2="391.00" y2="893.13" stroke="#333" stroke-width="1"/>
<line x1="386.50" y1="878.32" x2="391.00" y2="878.32" stroke="#333" stroke-width="1"/>
<line x1="388.80" y1="863.51" x2="391.00" y2="863.51" stroke="#333" stroke-width="1"/>
<line x1="386.50" y1="848.70" x2="391.00" y2="848.70" stroke="#333" stroke-width="1"/>
<line x1="388.80" y1="833.89" x2="391.00" y2="833.89" stroke="#333" stroke-width="1"/>
<line x1="386.50" y1="819.08" x2="391.00" y2="819.08" stroke="#333" stroke-width="1"/>
<line x1="388.80" y1="804.27" x2="391.00" y2="804.27" stroke="#333" stroke-width="1"/>
<line x1="386.50" y1="789.46" x2="391.00" y2="789.46" stroke="#333" stroke-width="1"/>
<text transform="translate(391.00,1010.72) scale(1.0,1)" text-anchor="middle" font-size="9.0" font-family="'Liberation Sans', sans-serif" stroke="#000" stroke-width="0.3" fill="#000">0.0</text>
<text transform="translate(418.60,1010.72) scale(1.0,1)" text-anchor="middle" font-size="9.0" font-family="'Liberation Sans', sans-serif" stroke="#000" stroke-width="0.3" fill="#000">0.5</text>
<text transform="translate(446.20,1010.72) scale(1.0,1)" text-anchor="middle" font-size="9.0" font-family="'Liberation Sans', sans-serif" stroke="#000" stroke-width="0.3" fill="#000">1.0</text>
<text transform="translate(473.80,1010.72) scale(1.0,1)" text-anchor="middle" font-size="9.0" font-family="'Liberation Sans', sans-serif" stroke="#000" stroke-width="0.3" fill="#000">1.5</text>
<text transform="translate(501.40,1010.72) scale(1.0,1)" text-anchor="middle" font-size="9.0" font-family="'Liberation Sans', sans-serif" stroke="#000" stroke-width="0.3" fill="#000">2.0</text>
<text transform="translate(529.00,1010.72) scale(1.0,1)" text-anchor="middle" font-size="9.0" font-family="'Liberation Sans', sans-serif" stroke="#000" stroke-width="0.3" fill="#000">2.5</text>
<text transform="translate(556.60,1010.72) scale(1.0,1)" text-anchor="middle" font-size="9.0" font-family="'Liberation Sans', sans-serif" stroke="#000" stroke-width="0.3" fill="#000">3.0</text>
<text transform="translate(584.20,1010.72) scale(1.0,1)" text-anchor="middle" font-size="9.0" font-family="'Liberation Sans', sans-serif" stroke="#000" stroke-width="0.3" fill="#000">3.5</text>
<text transform="translate(611.80,1010.72) scale(1.0,1)" text-anchor="middle" font-size="9.0" font-family="'Liberation Sans', sans-serif" stroke="#000" stroke-width="0.3" fill="#000">4.0</text>
<text transform="translate(639.40,1010.72) scale(1.0,1)" text-anchor="middle" font-size="9.0" font-family="'Liberation Sans', sans-serif" stroke="#000" stroke-width="0.3" fill="#000">4.5</text>
<text transform="translate(667.00,1010.72) scale(1.0,1)" text-anchor="middle" font-size="9.0" font-family="'Liberation Sans', sans-serif" stroke="#000" stroke-width="0.3" fill="#000">5.0</text>
<line x1="391.00" y1="996.80" x2="391.00" y2="1000.80" stroke="#333" stroke-width="1"/>
<line x1="404.80" y1="996.80" x2="404.80" y2="998.80" stroke="#333" stroke-width="1"/>
<line x1="418.60" y1="996.80" x2="418.60" y2="1000.80" stroke="#333" stroke-width="1"/>
<line x1="432.40" y1="996.80" x2="432.40" y2="998.80" stroke="#333" stroke-width="1"/>
<line x1="446.20" y1="996.80" x2="446.20" y2="1000.80" stroke="#333" stroke-width="1"/>
<line x1="460.00" y1="996.80" x2="460.00" y2="998.80" stroke="#333" stroke-width="1"/>
<line x1="473.80" y1="996.80" x2="473.80" y2="1000.80" stroke="#333" stroke-width="1"/>
<line x1="487.60" y1="996.80" x2="487.60" y2="998.80" stroke="#333" stroke-width="1"/>
<line x1="501.40" y1="996.80" x2="501.40" y2="1000.80" stroke="#333" stroke-width="1"/>
<line x1="515.20" y1="996.80" x2="515.20" y2="998.80" stroke="#333" stroke-width="1"/>
<line x1="529.00" y1="996.80" x2="529.00" y2="1000.80" stroke="#333" stroke-width="1"/>
<line x1="542.80" y1="996.80" x2="542.80" y2="998.80" stroke="#333" stroke-width="1"/>
<line x1="556.60" y1="996.80" x2="556.60" y2="1000.80" stroke="#333" stroke-width="1"/>
<line x1="570.40" y1="996.80" x2="570.40" y2="998.80" stroke="#333" stroke-width="1"/>
<line x1="584.20" y1="996.80" x2="584.20" y2="1000.80" stroke="#333" stroke-width="1"/>
<line x1="598.00" y1="996.80" x2="598.00" y2="998.80" stroke="#333" stroke-width="1"/>
<line x1="611.80" y1="996.80" x2="611.80" y2="1000.80" stroke="#333" stroke-width="1"/>
<line x1="625.60" y1="996.80" x2="625.60" y2="998.80" stroke="#333" stroke-width="1"/>
<line x1="639.40" y1="996.80" x2="639.40" y2="1000.80" stroke="#333" stroke-width="1"/>
<line x1="653.20" y1="996.80" x2="653.20" y2="998.80" stroke="#333" stroke-width="1"/>
<line x1="667.00" y1="996.80" x2="667.00" y2="1000.80" stroke="#333" stroke-width="1"/>
<text transform="translate(480.68,809.60) scale(0.9078,1)" font-size="25" font-family="'Liberation Serif', serif" font-weight="bold" fill="#000" stroke="#000" stroke-width="0.45">145<tspan font-size="32.00" dy="3.76" stroke-width="0.9">°</tspan><tspan dy="-3.76" stroke-width="0.45">C</tspan></text>
<text transform="translate(446.65,1026.30) scale(1.1259,1.0)" font-size="10.3" font-family="'Liberation Sans', sans-serif" stroke="#000" stroke-width="0.3" fill="#000">Equivalent Circle Diameter (µm)</text>
<text transform="translate(360.90,959.12) rotate(-90) scale(1.0000,1.04)" font-size="10.779" font-family="'Liberation Sans', sans-serif" stroke="#000" stroke-width="0.3" fill="#000">Area-Weighted Fraction (%)</text>
</g>
<g clip-path="url(#c150)">
<rect x="347.90" y="1043.00" width="326.60" height="244.80" fill="#fff" />
<rect x="466.90" y="1235.40" width="9.80" height="19.20" fill="#FC961E" stroke="#5a3d12" stroke-width="0.55"/>
<rect x="479.20" y="1215.30" width="10.00" height="39.30" fill="#FC961E" stroke="#5a3d12" stroke-width="0.55"/>
<rect x="491.70" y="1155.30" width="9.70" height="99.30" fill="#FC961E" stroke="#5a3d12" stroke-width="0.55"/>
<rect x="503.80" y="1210.50" width="9.60" height="44.10" fill="#FC961E" stroke="#5a3d12" stroke-width="0.55"/>
<rect x="576.80" y="1180.60" width="9.60" height="74.00" fill="#FC961E" stroke="#5a3d12" stroke-width="0.55"/>
<rect x="588.90" y="1178.60" width="9.80" height="76.00" fill="#FC961E" stroke="#5a3d12" stroke-width="0.55"/>
<rect x="601.20" y="1143.80" width="9.60" height="110.80" fill="#FC961E" stroke="#5a3d12" stroke-width="0.55"/>
<rect x="613.50" y="1178.60" width="9.60" height="76.00" fill="#FC961E" stroke="#5a3d12" stroke-width="0.55"/>
<rect x="625.60" y="1157.60" width="9.80" height="97.00" fill="#FC961E" stroke="#5a3d12" stroke-width="0.55"/>
<rect x="637.90" y="1082.70" width="9.80" height="171.90" fill="#FC961E" stroke="#5a3d12" stroke-width="0.55"/>
<line x1="397.10" y1="1051.30" x2="397.10" y2="1255.10" stroke="#333" stroke-width="1"/>
<line x1="393.10" y1="1254.60" x2="665.00" y2="1254.60" stroke="#333" stroke-width="1"/>
<text transform="translate(390.30,1257.75) scale(1.0,1)" text-anchor="end" font-size="8.8" font-family="'Liberation Sans', sans-serif" stroke="#000" stroke-width="0.3" fill="#000">0.00</text>
<text transform="translate(390.30,1217.09) scale(1.0,1)" text-anchor="end" font-size="8.8" font-family="'Liberation Sans', sans-serif" stroke="#000" stroke-width="0.3" fill="#000">0.05</text>
<text transform="translate(390.30,1176.43) scale(1.0,1)" text-anchor="end" font-size="8.8" font-family="'Liberation Sans', sans-serif" stroke="#000" stroke-width="0.3" fill="#000">0.10</text>
<text transform="translate(390.30,1135.77) scale(1.0,1)" text-anchor="end" font-size="8.8" font-family="'Liberation Sans', sans-serif" stroke="#000" stroke-width="0.3" fill="#000">0.15</text>
<text transform="translate(390.30,1095.11) scale(1.0,1)" text-anchor="end" font-size="8.8" font-family="'Liberation Sans', sans-serif" stroke="#000" stroke-width="0.3" fill="#000">0.20</text>
<text transform="translate(390.30,1054.45) scale(1.0,1)" text-anchor="end" font-size="8.8" font-family="'Liberation Sans', sans-serif" stroke="#000" stroke-width="0.3" fill="#000">0.25</text>
<line x1="393.10" y1="1254.60" x2="397.10" y2="1254.60" stroke="#333" stroke-width="1"/>
<line x1="395.10" y1="1234.27" x2="397.10" y2="1234.27" stroke="#333" stroke-width="1"/>
<line x1="393.10" y1="1213.94" x2="397.10" y2="1213.94" stroke="#333" stroke-width="1"/>
<line x1="395.10" y1="1193.61" x2="397.10" y2="1193.61" stroke="#333" stroke-width="1"/>
<line x1="393.10" y1="1173.28" x2="397.10" y2="1173.28" stroke="#333" stroke-width="1"/>
<line x1="395.10" y1="1152.95" x2="397.10" y2="1152.95" stroke="#333" stroke-width="1"/>
<line x1="393.10" y1="1132.62" x2="397.10" y2="1132.62" stroke="#333" stroke-width="1"/>
<line x1="395.10" y1="1112.29" x2="397.10" y2="1112.29" stroke="#333" stroke-width="1"/>
<line x1="393.10" y1="1091.96" x2="397.10" y2="1091.96" stroke="#333" stroke-width="1"/>
<line x1="395.10" y1="1071.63" x2="397.10" y2="1071.63" stroke="#333" stroke-width="1"/>
<line x1="393.10" y1="1051.30" x2="397.10" y2="1051.30" stroke="#333" stroke-width="1"/>
<text transform="translate(397.10,1268.42) scale(1.0,1)" text-anchor="middle" font-size="9.0" font-family="'Liberation Sans', sans-serif" stroke="#000" stroke-width="0.3" fill="#000">0.0</text>
<text transform="translate(417.70,1268.42) scale(1.0,1)" text-anchor="middle" font-size="9.0" font-family="'Liberation Sans', sans-serif" stroke="#000" stroke-width="0.3" fill="#000">0.5</text>
<text transform="translate(438.30,1268.42) scale(1.0,1)" text-anchor="middle" font-size="9.0" font-family="'Liberation Sans', sans-serif" stroke="#000" stroke-width="0.3" fill="#000">1.0</text>
<text transform="translate(458.90,1268.42) scale(1.0,1)" text-anchor="middle" font-size="9.0" font-family="'Liberation Sans', sans-serif" stroke="#000" stroke-width="0.3" fill="#000">1.5</text>
<text transform="translate(479.50,1268.42) scale(1.0,1)" text-anchor="middle" font-size="9.0" font-family="'Liberation Sans', sans-serif" stroke="#000" stroke-width="0.3" fill="#000">2.0</text>
<text transform="translate(500.10,1268.42) scale(1.0,1)" text-anchor="middle" font-size="9.0" font-family="'Liberation Sans', sans-serif" stroke="#000" stroke-width="0.3" fill="#000">2.5</text>
<text transform="translate(520.70,1268.42) scale(1.0,1)" text-anchor="middle" font-size="9.0" font-family="'Liberation Sans', sans-serif" stroke="#000" stroke-width="0.3" fill="#000">3.0</text>
<text transform="translate(541.30,1268.42) scale(1.0,1)" text-anchor="middle" font-size="9.0" font-family="'Liberation Sans', sans-serif" stroke="#000" stroke-width="0.3" fill="#000">3.5</text>
<text transform="translate(561.90,1268.42) scale(1.0,1)" text-anchor="middle" font-size="9.0" font-family="'Liberation Sans', sans-serif" stroke="#000" stroke-width="0.3" fill="#000">4.0</text>
<text transform="translate(582.50,1268.42) scale(1.0,1)" text-anchor="middle" font-size="9.0" font-family="'Liberation Sans', sans-serif" stroke="#000" stroke-width="0.3" fill="#000">4.5</text>
<text transform="translate(603.10,1268.42) scale(1.0,1)" text-anchor="middle" font-size="9.0" font-family="'Liberation Sans', sans-serif" stroke="#000" stroke-width="0.3" fill="#000">5.0</text>
<text transform="translate(623.70,1268.42) scale(1.0,1)" text-anchor="middle" font-size="9.0" font-family="'Liberation Sans', sans-serif" stroke="#000" stroke-width="0.3" fill="#000">5.5</text>
<text transform="translate(644.30,1268.42) scale(1.0,1)" text-anchor="middle" font-size="9.0" font-family="'Liberation Sans', sans-serif" stroke="#000" stroke-width="0.3" fill="#000">6.0</text>
<text transform="translate(664.90,1268.42) scale(1.0,1)" text-anchor="middle" font-size="9.0" font-family="'Liberation Sans', sans-serif" stroke="#000" stroke-width="0.3" fill="#000">6.5</text>
<line x1="397.10" y1="1254.60" x2="397.10" y2="1258.60" stroke="#333" stroke-width="1"/>
<line x1="407.40" y1="1254.60" x2="407.40" y2="1256.60" stroke="#333" stroke-width="1"/>
<line x1="417.70" y1="1254.60" x2="417.70" y2="1258.60" stroke="#333" stroke-width="1"/>
<line x1="428.00" y1="1254.60" x2="428.00" y2="1256.60" stroke="#333" stroke-width="1"/>
<line x1="438.30" y1="1254.60" x2="438.30" y2="1258.60" stroke="#333" stroke-width="1"/>
<line x1="448.60" y1="1254.60" x2="448.60" y2="1256.60" stroke="#333" stroke-width="1"/>
<line x1="458.90" y1="1254.60" x2="458.90" y2="1258.60" stroke="#333" stroke-width="1"/>
<line x1="469.20" y1="1254.60" x2="469.20" y2="1256.60" stroke="#333" stroke-width="1"/>
<line x1="479.50" y1="1254.60" x2="479.50" y2="1258.60" stroke="#333" stroke-width="1"/>
<line x1="489.80" y1="1254.60" x2="489.80" y2="1256.60" stroke="#333" stroke-width="1"/>
<line x1="500.10" y1="1254.60" x2="500.10" y2="1258.60" stroke="#333" stroke-width="1"/>
<line x1="510.40" y1="1254.60" x2="510.40" y2="1256.60" stroke="#333" stroke-width="1"/>
<line x1="520.70" y1="1254.60" x2="520.70" y2="1258.60" stroke="#333" stroke-width="1"/>
<line x1="531.00" y1="1254.60" x2="531.00" y2="1256.60" stroke="#333" stroke-width="1"/>
<line x1="541.30" y1="1254.60" x2="541.30" y2="1258.60" stroke="#333" stroke-width="1"/>
<line x1="551.60" y1="1254.60" x2="551.60" y2="1256.60" stroke="#333" stroke-width="1"/>
<line x1="561.90" y1="1254.60" x2="561.90" y2="1258.60" stroke="#333" stroke-width="1"/>
<line x1="572.20" y1="1254.60" x2="572.20" y2="1256.60" stroke="#333" stroke-width="1"/>
<line x1="582.50" y1="1254.60" x2="582.50" y2="1258.60" stroke="#333" stroke-width="1"/>
<line x1="592.80" y1="1254.60" x2="592.80" y2="1256.60" stroke="#333" stroke-width="1"/>
<line x1="603.10" y1="1254.60" x2="603.10" y2="1258.60" stroke="#333" stroke-width="1"/>
<line x1="613.40" y1="1254.60" x2="613.40" y2="1256.60" stroke="#333" stroke-width="1"/>
<line x1="623.70" y1="1254.60" x2="623.70" y2="1258.60" stroke="#333" stroke-width="1"/>
<line x1="634.00" y1="1254.60" x2="634.00" y2="1256.60" stroke="#333" stroke-width="1"/>
<line x1="644.30" y1="1254.60" x2="644.30" y2="1258.60" stroke="#333" stroke-width="1"/>
<line x1="654.60" y1="1254.60" x2="654.60" y2="1256.60" stroke="#333" stroke-width="1"/>
<line x1="664.90" y1="1254.60" x2="664.90" y2="1258.60" stroke="#333" stroke-width="1"/>
<text transform="translate(480.68,1069.60) scale(0.9078,1)" font-size="25" font-family="'Liberation Serif', serif" font-weight="bold" fill="#000" stroke="#000" stroke-width="0.45">150<tspan font-size="32.00" dy="3.76" stroke-width="0.9">°</tspan><tspan dy="-3.76" stroke-width="0.45">C</tspan></text>
<text transform="translate(451.58,1283.60) scale(1.1080,1.0)" font-size="10.1" font-family="'Liberation Sans', sans-serif" stroke="#000" stroke-width="0.3" fill="#000">Equivalent Circle Diameter (µm)</text>
<text transform="translate(368.00,1218.22) rotate(-90) scale(1.0000,1.04)" font-size="10.543" font-family="'Liberation Sans', sans-serif" stroke="#000" stroke-width="0.3" fill="#000">Area-Weighted Fraction (%)</text>
</g>
</svg>
</body></html>
